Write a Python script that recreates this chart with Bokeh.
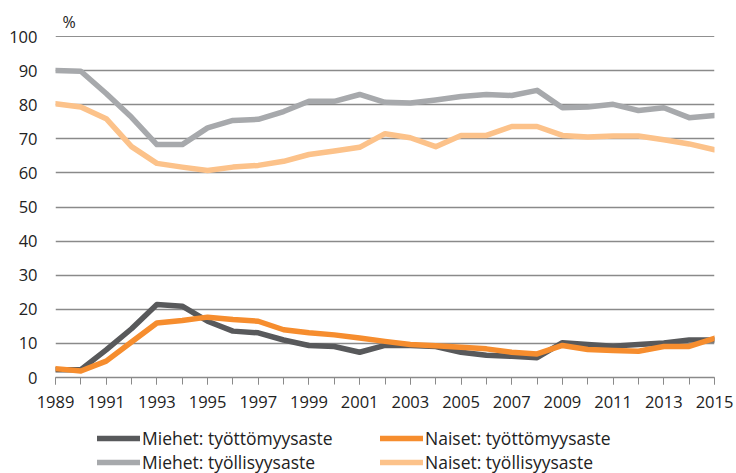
from bokeh.plotting import figure
from bokeh.layouts import column
from bokeh.models import (Range1d, FixedTicker, Legend, LegendItem, Span, ColumnDataSource)
from bokeh.embed import file_html
from bokeh.resources import INLINE

years = list(range(1989, 2016))
label_years = list(range(1989, 2016, 2))
y_ticks = list(range(0, 101, 10))

miehet_tyollisyys = [90.0, 89.8, 83.3, 76.3, 68.3, 68.3, 73.2, 75.4, 75.7, 78.0, 81.0, 81.0, 83.0, 80.7,
                     80.5, 81.4, 82.4, 83.0, 82.7, 84.2, 79.1, 79.3, 80.1, 78.3, 79.1, 76.2, 76.8]
naiset_tyollisyys = [80.3, 79.3, 75.9, 67.7, 62.8, 61.7, 60.7, 61.7, 62.2, 63.4, 65.4, 66.4, 67.5, 71.5,
                     70.3, 67.7, 71.0, 71.0, 73.6, 73.6, 71.0, 70.5, 70.8, 70.8, 69.7, 68.5, 66.8]
miehet_tyottomyys = [2.3, 2.3, 8.1, 14.3, 21.4, 20.9, 16.5, 13.6, 13.1, 11.0, 9.4, 9.1, 7.4, 9.4,
                     9.4, 9.1, 7.4, 6.5, 6.2, 5.8, 10.2, 9.7, 9.2, 9.7, 10.1, 11.0, 11.0]
naiset_tyottomyys = [2.6, 1.9, 4.8, 10.4, 16.0, 16.7, 17.7, 17.0, 16.5, 14.0, 13.1, 12.5, 11.6, 10.6,
                     9.7, 9.3, 8.9, 8.4, 7.4, 6.9, 9.4, 8.2, 7.9, 7.7, 9.1, 9.1, 11.5]

labels = ["Miehet: työttömyysaste", "Naiset: työttömyysaste",
          "Miehet: työllisyysaste", "Naiset: työllisyysaste"]
colors = ["#58595b", "#f68d2e", "#a7a9ac", "#fcc28a"]

FONT = "Open Sans"
TXT = "#222222"
LW = 5.5

src = ColumnDataSource(dict(x=years, mu=miehet_tyottomyys, nu=naiset_tyottomyys,
                            mt=miehet_tyollisyys, nt=naiset_tyollisyys))
cols = ["mu", "nu", "mt", "nt"]

p = figure(width=736, height=415, output_backend="svg", toolbar_location=None,
           x_range=Range1d(1989, 2015), y_range=Range1d(0, 100),
           min_border_left=55, min_border_right=22, min_border_top=36, min_border_bottom=38)
p.outline_line_color = None
p.background_fill_color = "white"

p.title.text = "%"
p.title.text_font = FONT
p.title.text_font_size = "16px"
p.title.text_font_style = "normal"
p.title.text_color = TXT
p.title.align = "left"
p.title.offset = 7
p.title.standoff = 8

xa = p.xaxis[0]
xa.ticker = FixedTicker(ticks=label_years, minor_ticks=years)
xa.axis_line_color = "#8a8a8a"
xa.axis_line_width = 1.5
xa.major_tick_line_color = "#8a8a8a"
xa.minor_tick_line_color = "#8a8a8a"
xa.major_tick_out = 7
xa.major_tick_in = 0
xa.minor_tick_out = 7
xa.minor_tick_in = 0
xa.major_label_text_font = FONT
xa.major_label_text_font_size = "16.5px"
xa.major_label_text_color = TXT
xa.major_label_standoff = 11

ya = p.yaxis[0]
ya.ticker = FixedTicker(ticks=y_ticks)
ya.axis_line_color = None
ya.major_tick_line_color = None
ya.minor_tick_line_color = None
ya.major_label_text_font = FONT
ya.major_label_text_font_size = "16.5px"
ya.major_label_text_color = TXT
ya.major_label_standoff = 12

p.xgrid.visible = False
p.ygrid.ticker = FixedTicker(ticks=y_ticks[1:-1])
p.ygrid.grid_line_color = "#8a8a8a"
p.ygrid.grid_line_width = 1.5

p.add_layout(Span(location=100, dimension="width", line_color="#222222", line_width=1.2))

# drawing order: employment rates first, unemployment on top (women's last)
for i in [2, 3, 0, 1]:
    p.line("x", cols[i], source=src, line_color=colors[i], line_width=LW,
           line_join="round", line_cap="round")

# legend strip under the chart (same series, outside this strip's visible range)
q = figure(width=736, height=58, output_backend="svg", toolbar_location=None,
           x_range=Range1d(0, 1), y_range=Range1d(0, 1),
           min_border_left=55, min_border_right=22, min_border_top=0, min_border_bottom=0)
q.axis.visible = False
q.grid.visible = False
q.outline_line_color = None
rs = [q.line("x", cols[i], source=src, line_color=colors[i], line_width=LW, line_cap="round")
      for i in range(4)]
legend = Legend(items=[LegendItem(label=labels[i], renderers=[rs[i]]) for i in range(4)],
                orientation="horizontal", ncols=2, location=(42, -1))
legend.glyph_width = 43
legend.glyph_height = 20
legend.label_standoff = 2
legend.label_width = 238
legend.label_height = 20
legend.spacing = -1
legend.padding = 0
legend.margin = 0
legend.border_line_color = None
legend.background_fill_alpha = 0
legend.label_text_font = FONT
legend.label_text_font_size = "17.5px"
legend.label_text_color = TXT
q.add_layout(legend, "center")

layout = column(p, q, spacing=0)
open("out.html", "w").write(file_html(layout, INLINE))
